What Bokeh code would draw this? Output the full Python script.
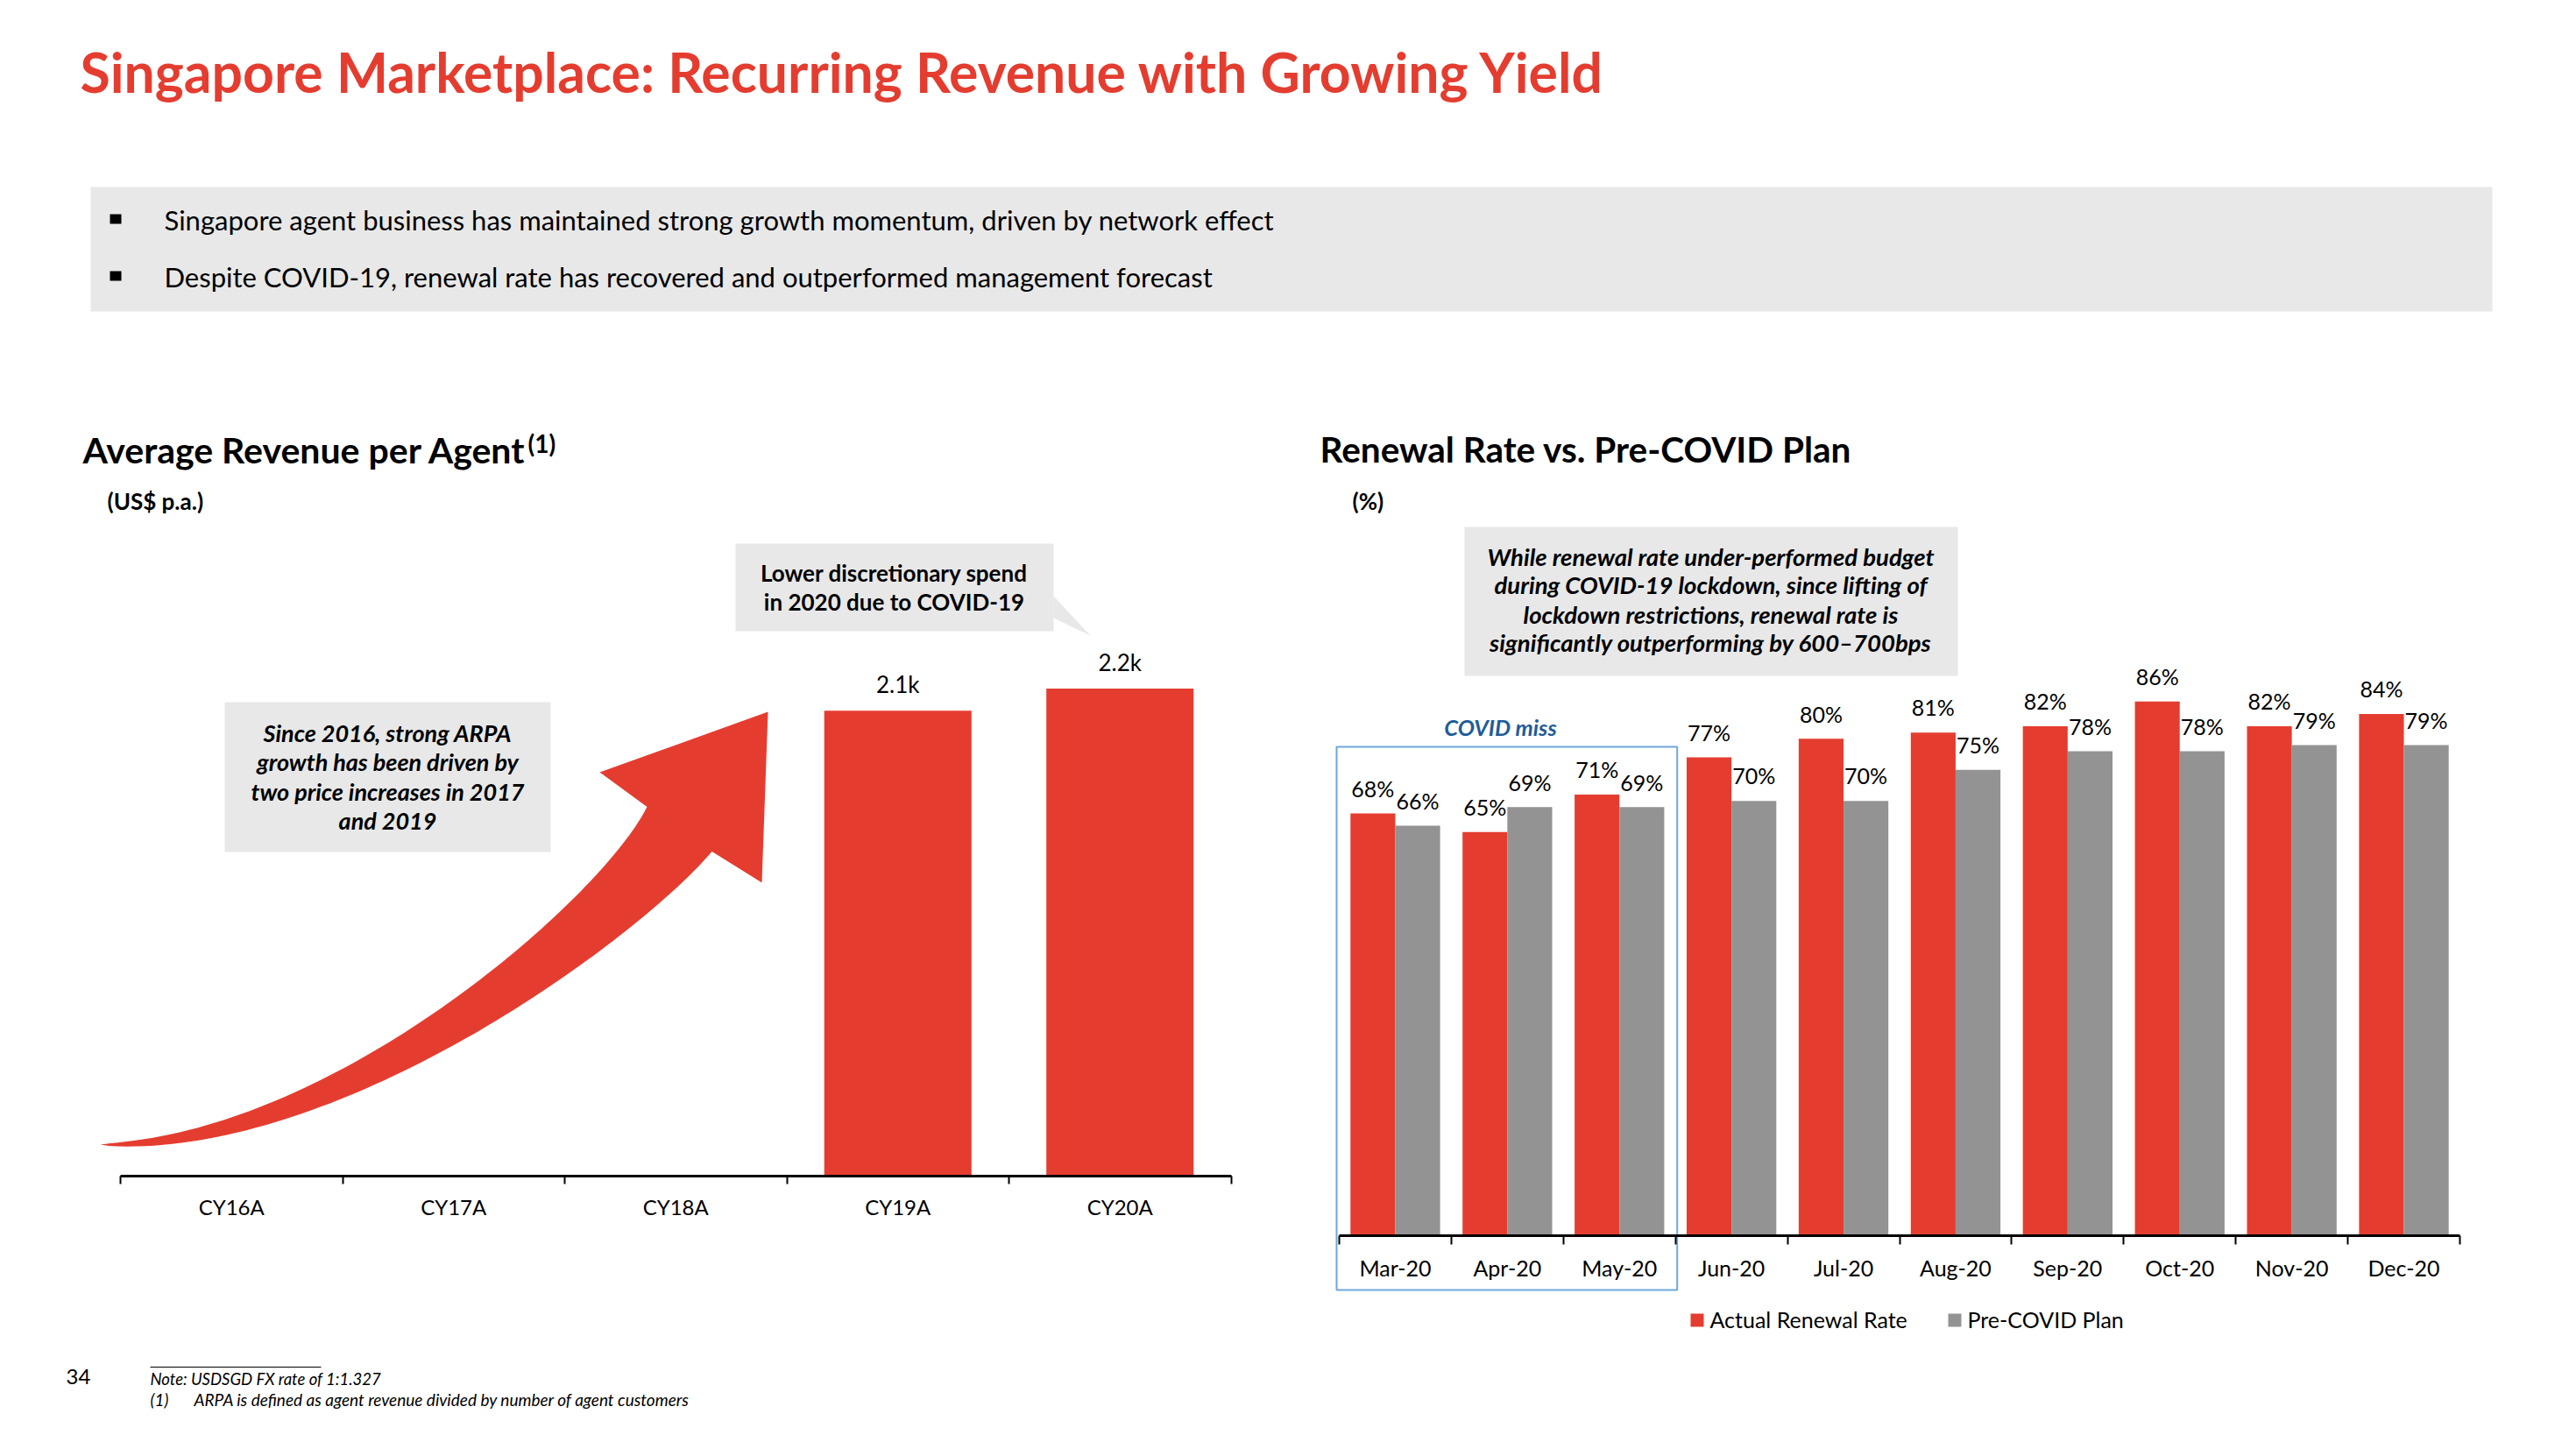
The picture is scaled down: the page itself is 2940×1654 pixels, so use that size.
import math
from bokeh.plotting import figure
from bokeh.models import Range1d, LinearAxis, FixedTicker, ColumnDataSource
from bokeh.core.properties import value
from bokeh.embed import file_html
from bokeh.resources import INLINE

# ---------------- data ----------------
years = ["CY16A", "CY17A", "CY18A", "CY19A", "CY20A"]
arpa_years = ["CY19A", "CY20A"]
arpa_k = [2.1, 2.2]                      # US$ thousand p.a.

months = ["Mar-20", "Apr-20", "May-20", "Jun-20", "Jul-20",
          "Aug-20", "Sep-20", "Oct-20", "Nov-20", "Dec-20"]
actual_rate = [68, 65, 71, 77, 80, 81, 82, 86, 82, 84]
plan_rate = [66, 69, 69, 70, 70, 75, 78, 78, 79, 79]
covid_miss_months = ["Mar-20", "Apr-20", "May-20"]
series_names = ["Actual Renewal Rate", "Pre-COVID Plan"]

title_text = "Singapore Marketplace: Recurring Revenue with Growing Yield"
bullet_texts = [
    "Singapore agent business has maintained strong growth momentum, driven by network effect",
    "Despite COVID-19, renewal rate has recovered and outperformed management forecast",
]
left_title = "Average Revenue per Agent"
left_unit = "(US$ p.a.)"
right_title = "Renewal Rate vs. Pre-COVID Plan"
right_unit = "(%)"
arrow_note = ["Since 2016, strong ARPA", "growth has been driven by",
              "two price increases in 2017", "and 2019"]
callout_note = ["Lower discretionary spend", "in 2020 due to COVID-19"]
right_note = ["While renewal rate under-performed budget",
              "during COVID-19 lockdown, since lifting of",
              "lockdown restrictions, renewal rate is",
              "significantly outperforming by 600\u2013700bps"]
footnotes = ["Note: USDSGD FX rate of 1:1.327",
             "ARPA is defined as agent revenue divided by number of agent customers"]
page_number = "34"

# ---------------- styles / layout ----------------
FONT = "Lato"
RED = "#E43D30"
GREY_BAR = "#939393"
BOX = "#E8E8E8"
BLUE_BOX = "#6FA8DC"
BLUE_TXT = "#1F5C99"
BASE_FIX = 0.39   # renderer places alphabetic baseline slightly low; compensate

W, H = 2936, 1650
PX0, PY0 = 0, 0

# left chart geometry (page pixels)
L_X0, L_CW, L_Y0, L_K = 137.0, 253.5, 1342.0, 253.0
# right chart geometry (page pixels)
R_X0, R_CW, R_Y0, R_P = 1528.0, 127.9, 1410.0, 7.09


def lx_of(px):
    return (px - L_X0) / L_CW - 0.5


def rx_of(px):
    return (px - R_X0) / R_CW - 0.5


p = figure(width=W, height=H,
           x_range=Range1d(PX0, PX0 + W), y_range=Range1d(PY0 + H, PY0),
           x_axis_location=None, y_axis_location=None,
           toolbar_location=None, output_backend="svg",
           min_border=0, outline_line_color=None)
p.grid.visible = False
p.background_fill_color = "white"
p.border_fill_color = "white"

p.extra_x_ranges = {
    "lx": Range1d(lx_of(PX0), lx_of(PX0 + W)),
    "rx": Range1d(rx_of(PX0), rx_of(PX0 + W)),
}
p.extra_y_ranges = {
    "ly": Range1d((L_Y0 - (PY0 + H)) / L_K, (L_Y0 - PY0) / L_K),
    "ry": Range1d((R_Y0 - (PY0 + H)) / R_P, (R_Y0 - PY0) / R_P),
}


def txt(x, y, s, size, style="normal", color="black", align="left", **kw):
    p.text(x=[x], y=[y - BASE_FIX * size], text=[s], text_font=value(FONT),
           text_font_size=value(f"{size}px"), text_font_style=style,
           text_color=color, text_align=align, text_baseline="alphabetic", **kw)


def box(l, r, t, b, color=BOX):
    p.quad(left=[l], right=[r], top=[t], bottom=[b],
           fill_color=color, line_color=None)


# ---------------- header ----------------
txt(91, 105, title_text, 62.5, style="bold", color=RED)
box(103, 2844, 213, 355)
for s, by in zip(bullet_texts, [263, 328]):
    p.quad(left=[125], right=[138], top=[by - 19], bottom=[by - 8],
           fill_color="black", line_color=None)
    txt(187, by, s, 31)

# ---------------- left chart ----------------
txt(94, 529, left_title, 41, style="bold")
txt(602, 516, "(1)", 28, style="bold")
txt(122, 582, left_unit, 26, style="bold")

# growth arrow (decoration)
P0, P3 = (114.0, 1306.0), (775.0, 946.0)
d = (0.567, -0.823)
P1 = (380.0, 1310.0)
P2 = (P3[0] - 130 * d[0], P3[1] - 130 * d[1])


def bez(t):
    u = 1 - t
    return (u ** 3 * P0[0] + 3 * u * u * t * P1[0] + 3 * u * t * t * P2[0] + t ** 3 * P3[0],
            u ** 3 * P0[1] + 3 * u * u * t * P1[1] + 3 * u * t * t * P2[1] + t ** 3 * P3[1])


def bezd(t):
    u = 1 - t
    return (3 * u * u * (P1[0] - P0[0]) + 6 * u * t * (P2[0] - P1[0]) + 3 * t * t * (P3[0] - P2[0]),
            3 * u * u * (P1[1] - P0[1]) + 6 * u * t * (P2[1] - P1[1]) + 3 * t * t * (P3[1] - P2[1]))


upper, lower = [], []
N = 80
for k in range(N + 1):
    t = k / N
    x, y = bez(t)
    dx, dy = bezd(t)
    L = math.hypot(dx, dy)
    tx, ty = dx / L, dy / L
    hw = 45 * (0.6 * t ** 1.4 + 0.4 * t ** 0.6)
    upper.append((x + hw * ty, y - hw * tx))
    lower.append((x - hw * ty, y + hw * tx))
head = [(684, 881), (876, 812), (869, 1007)]
poly = upper + head + lower[::-1]
p.patch(x=[q[0] for q in poly], y=[q[1] for q in poly], fill_color=RED, line_color=None)

# note boxes
box(256, 628, 801, 972)
for s, by in zip(arrow_note, [847, 880, 914, 947]):
    txt(442, by, s, 27, style="bold italic", align="center")

box(839, 1202, 620, 720)
p.patch(x=[1202, 1244, 1202], y=[680, 725, 705], fill_color=BOX, line_color=None)
for s, by in zip(callout_note, [664, 697]):
    txt(1020, by, s, 26, style="bold", align="center")

# bars
LBL_L = 26
src_l = ColumnDataSource(dict(
    x=[years.index(y) for y in arpa_years],
    top=arpa_k,
    label=[f"{v:.1f}k" for v in arpa_k],
    ly=[v + (20 + BASE_FIX * LBL_L) / L_K for v in arpa_k],
))
p.vbar(x="x", top="top", bottom=0, width=0.663, source=src_l,
       x_range_name="lx", y_range_name="ly", fill_color=RED, line_color=None)
p.text(x="x", y="ly", text="label", source=src_l, x_range_name="lx", y_range_name="ly",
       text_font=value(FONT), text_font_size=value(f"{LBL_L}px"), text_align="center",
       text_baseline="alphabetic", text_color="black")

ax_l = LinearAxis(x_range_name="lx", y_range_name="ly", fixed_location=0,
                  ticker=FixedTicker(ticks=list(range(len(years))),
                                     minor_ticks=[i - 0.5 for i in range(len(years) + 1)]),
                  major_label_overrides={i: c for i, c in enumerate(years)},
                  bounds=(-0.5, len(years) - 0.5))
ax_l.axis_line_width = 3
ax_l.axis_line_color = "black"
ax_l.major_tick_out = 0
ax_l.major_tick_in = 0
ax_l.minor_tick_out = 9
ax_l.minor_tick_in = 0
ax_l.minor_tick_line_width = 2
ax_l.minor_tick_line_color = "black"
ax_l.major_label_standoff = 11
ax_l.major_label_text_font = FONT
ax_l.major_label_text_font_size = "24px"
ax_l.major_label_text_color = "black"
p.add_layout(ax_l, "below")

# ---------------- right chart ----------------
txt(1506, 528, right_title, 40.5, style="bold")
txt(1543, 582, right_unit, 26, style="bold")

box(1671, 2234, 601, 771)
for s, by in zip(right_note, [646, 678, 712, 744]):
    txt(1952, by, s, 27.5, style="bold italic", align="center")

LBL_R = 25
idx = list(range(len(months)))
src_r = ColumnDataSource(dict(
    xa=[i - 0.2 for i in idx], xp=[i + 0.2 for i in idx],
    actual=actual_rate, plan=plan_rate,
    la=[f"{v}%" for v in actual_rate], lp=[f"{v}%" for v in plan_rate],
    ya=[v + (19 + BASE_FIX * LBL_R) / R_P for v in actual_rate],
    yp=[v + (19 + BASE_FIX * LBL_R) / R_P for v in plan_rate],
))
p.vbar(x="xa", top="actual", bottom=0, width=0.4, source=src_r,
       x_range_name="rx", y_range_name="ry", fill_color=RED, line_color=None)
p.vbar(x="xp", top="plan", bottom=0, width=0.4, source=src_r,
       x_range_name="rx", y_range_name="ry", fill_color=GREY_BAR, line_color=None)
for xc, yc, lc in [("xa", "ya", "la"), ("xp", "yp", "lp")]:
    p.text(x=xc, y=yc, text=lc, source=src_r, x_range_name="rx", y_range_name="ry",
           text_font=value(FONT), text_font_size=value(f"{LBL_R}px"), text_align="center",
           text_baseline="alphabetic", text_color="black")

# COVID miss frame
mi = [months.index(m) for m in covid_miss_months]
p.quad(left=[min(mi) - 0.5 - 3 / R_CW], right=[max(mi) + 0.5 + 2 / R_CW],
       top=[(R_Y0 - 852) / R_P], bottom=[(R_Y0 - 1472) / R_P],
       x_range_name="rx", y_range_name="ry",
       fill_color=None, line_color=BLUE_BOX, line_width=2)
txt(1712, 839, "COVID miss", 25.5, style="bold italic", color=BLUE_TXT, align="center")

ax_r = LinearAxis(x_range_name="rx", y_range_name="ry", fixed_location=0,
                  ticker=FixedTicker(ticks=idx,
                                     minor_ticks=[i - 0.5 for i in range(len(months) + 1)]),
                  major_label_overrides={i: m for i, m in enumerate(months)},
                  bounds=(-0.5, len(months) - 0.5))
ax_r.axis_line_width = 3
ax_r.axis_line_color = "black"
ax_r.major_tick_out = 0
ax_r.major_tick_in = 0
ax_r.minor_tick_out = 10
ax_r.minor_tick_in = 0
ax_r.minor_tick_line_width = 2
ax_r.minor_tick_line_color = "black"
ax_r.major_label_standoff = 11
ax_r.major_label_text_font = FONT
ax_r.major_label_text_font_size = "25px"
ax_r.major_label_text_color = "black"
p.add_layout(ax_r, "below")

# legend
for (sx, col), name in zip([(1929, RED), (2223, GREY_BAR)], series_names):
    p.quad(left=[sx], right=[sx + 15], top=[1499], bottom=[1514],
           fill_color=col, line_color=None)
    txt(sx + 22, 1515, name, 25)

# ---------------- footer ----------------
txt(75, 1580, page_number, 24)
p.segment(x0=[171], y0=[1560], x1=[366], y1=[1560], line_color="black", line_width=1)
txt(171, 1581, footnotes[0], 18.5, style="italic")
txt(171, 1604, "(1)", 19, style="italic")
txt(221, 1604, footnotes[1], 19, style="italic")

open("out.html", "w").write(file_html(p, INLINE))
